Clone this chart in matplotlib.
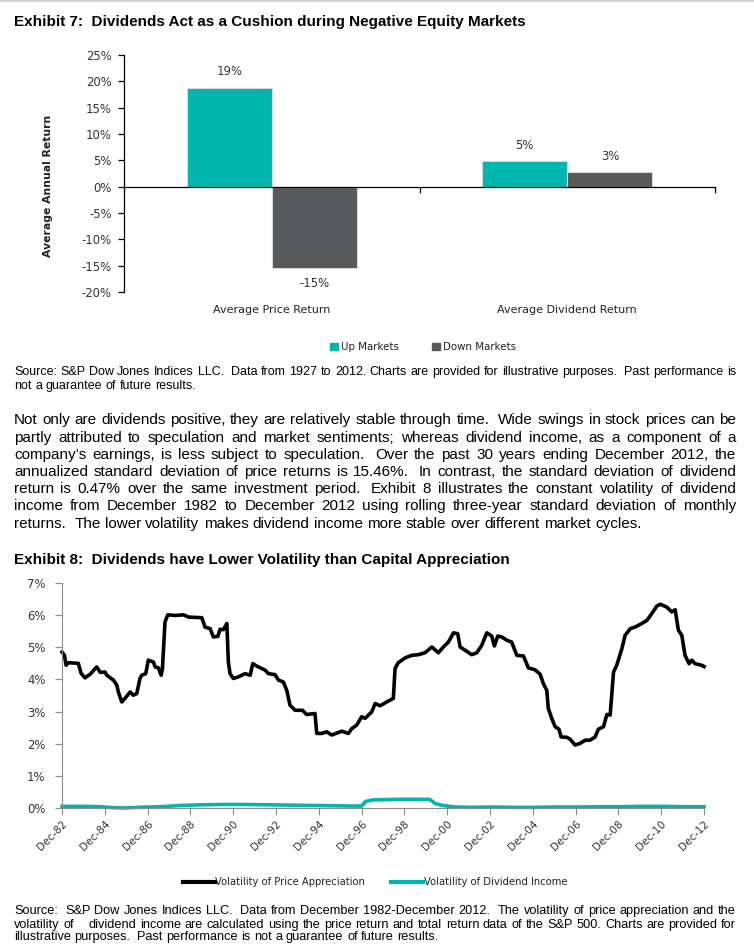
from math import floor
import numpy as np
import matplotlib
matplotlib.use('Agg')
import matplotlib.pyplot as plt
from matplotlib.patches import Patch
from matplotlib.lines import Line2D

#====================================================
# Data
#====================================================

categories = ['Average Price Return', 'Average Dividend Return']
up_markets = [18.8, 4.8]
down_markets = [-15.4, 2.7]
up_labels = ['19%', '5%']
down_labels = ['-15%', '3%']
ret_ticks = [-20, -15, -10, -5, 0, 5, 10, 15, 20, 25]

# rolling three-year volatility, decimal years
price_dates = [1982.92, 1983.03, 1983.11, 1983.21, 1983.68, 1983.81, 1983.99, 1984.23,
               1984.54, 1984.70, 1984.93, 1985.01, 1985.32, 1985.48, 1985.55, 1985.71,
               1985.86, 1986.10, 1986.25, 1986.41, 1986.56, 1986.64, 1986.83, 1986.95,
               1987.19, 1987.27, 1987.42, 1987.55, 1987.61, 1987.73, 1987.86, 1988.20,
               1988.59, 1988.82, 1989.45, 1989.60, 1989.84, 1989.99, 1990.20, 1990.30,
               1990.46, 1990.62, 1990.69, 1990.77, 1990.92, 1991.16, 1991.47, 1991.71,
               1991.83, 1992.09, 1992.41, 1992.56, 1992.87, 1993.03, 1993.26, 1993.42,
               1993.57, 1993.81, 1994.15, 1994.35, 1994.74, 1994.82, 1995.05, 1995.29,
               1995.52, 1995.99, 1996.30, 1996.46, 1996.69, 1996.92, 1997.08, 1997.39,
               1997.55, 1997.78, 1998.09, 1998.40, 1998.48, 1998.63, 1998.95, 1999.26,
               1999.57, 1999.88, 2000.20, 2000.50, 2000.74, 2000.97, 2001.21, 2001.41,
               2001.52, 2001.75, 2002.06, 2002.30, 2002.53, 2002.77, 2003.00, 2003.12,
               2003.28, 2003.47, 2003.70, 2003.93, 2004.17, 2004.48, 2004.71, 2005.02,
               2005.26, 2005.41, 2005.57, 2005.64, 2005.80, 2005.96, 2006.14, 2006.24,
               2006.50, 2006.66, 2006.89, 2007.13, 2007.36, 2007.59, 2007.83, 2007.98,
               2008.22, 2008.38, 2008.53, 2008.69, 2008.84, 2009.08, 2009.23, 2009.47,
               2009.70, 2010.01, 2010.25, 2010.48, 2010.71, 2010.87, 2011.18, 2011.41,
               2011.57, 2011.72, 2011.88, 2012.03, 2012.22, 2012.34, 2012.50, 2012.81,
               2012.92]
price_vol = [4.85, 4.75, 4.44, 4.52, 4.50, 4.19, 4.05, 4.16,
             4.39, 4.22, 4.23, 4.13, 3.98, 3.82, 3.61, 3.30,
             3.41, 3.61, 3.51, 3.56, 4.03, 4.13, 4.18, 4.60,
             4.54, 4.39, 4.36, 4.13, 4.34, 5.79, 6.01, 5.99,
             6.01, 5.94, 5.92, 5.63, 5.58, 5.32, 5.34, 5.56,
             5.55, 5.74, 4.54, 4.18, 4.03, 4.08, 4.18, 4.13,
             4.49, 4.39, 4.29, 4.18, 4.15, 3.98, 3.92, 3.66,
             3.20, 3.04, 3.04, 2.91, 2.94, 2.32, 2.32, 2.37,
             2.27, 2.39, 2.32, 2.47, 2.58, 2.84, 2.79, 2.99,
             3.25, 3.18, 3.30, 3.41, 4.34, 4.52, 4.67, 4.75,
             4.77, 4.83, 5.01, 4.83, 5.01, 5.16, 5.45, 5.42,
             5.01, 4.91, 4.77, 4.83, 5.06, 5.45, 5.35, 5.04,
             5.35, 5.32, 5.22, 5.16, 4.75, 4.73, 4.36, 4.30,
             4.16, 3.87, 3.66, 3.10, 2.79, 2.53, 2.45, 2.21,
             2.20, 2.14, 1.96, 2.01, 2.11, 2.11, 2.21, 2.45,
             2.53, 2.91, 2.89, 4.23, 4.44, 4.96, 5.37, 5.58,
             5.63, 5.74, 5.84, 6.05, 6.28, 6.34, 6.25, 6.10,
             6.17, 5.53, 5.37, 4.75, 4.49, 4.60, 4.49, 4.44,
             4.40]

div_dates = [1982.92, 1984.0, 1984.7, 1985.3, 1985.8, 1986.5, 1987.5, 1988.5, 1989.5,
             1990.5, 1991.5, 1992.5, 1993.5, 1994.5, 1995.5, 1996.5, 1996.92, 1997.1,
             1997.4, 1998.0, 1998.7, 1999.5, 2000.1, 2000.35, 2000.7, 2001.3, 2002.0,
             2003.0, 2004.0, 2005.0, 2006.0, 2007.0, 2008.0, 2009.0, 2010.0, 2011.0,
             2012.0, 2012.92]
div_vol = [0.05, 0.05, 0.04, 0.01, 0.00, 0.02, 0.04, 0.08, 0.10,
           0.11, 0.11, 0.10, 0.09, 0.08, 0.07, 0.06, 0.06, 0.20,
           0.25, 0.26, 0.27, 0.27, 0.27, 0.14, 0.08, 0.03, 0.02,
           0.03, 0.02, 0.02, 0.03, 0.03, 0.04, 0.04, 0.05, 0.05,
           0.04, 0.04]

vol_ticks = [0, 1, 2, 3, 4, 5, 6, 7]
tick_years = list(range(1982, 2013, 2))
tick_labels = ['Dec-%02d' % (y % 100) for y in tick_years]

para = ["Not only are dividends positive, they are relatively stable through time.  Wide swings in stock prices can be",
        "partly attributed to speculation and market sentiments; whereas dividend income, as a component of a",
        "company\u2019s earnings, is less subject to speculation.  Over the past 30 years ending December 2012, the",
        "annualized standard deviation of price returns is 15.46%.  In contrast, the standard deviation of dividend",
        "return is 0.47% over the same investment period.  Exhibit 8 illustrates the constant volatility of dividend",
        "income from December 1982 to December 2012 using rolling three-year standard deviation of monthly",
        "returns.  The lower volatility makes dividend income more stable over different market cycles."]
source7 = ["Source: S&P Dow Jones Indices LLC.  Data from 1927 to 2012. Charts are provided for illustrative purposes.  Past performance is",
           "not a guarantee of future results."]
source8 = ["Source:  S&P Dow Jones Indices LLC.  Data from December 1982-December 2012.  The volatility of price appreciation and the",
           "volatility of    dividend income are calculated using the price return and total return data of the S&P 500. Charts are provided for",
           "illustrative purposes.  Past performance is not a guarantee of future results."]

#====================================================
# Page setup
#====================================================

teal = '#00B5AD'
grey = '#58595B'
W, H = 754, 949
text_font = ['Liberation Sans', 'DejaVu Sans']
plt.rcParams['font.family'] = ['DejaVu Sans']

fig = plt.figure(figsize=(W / 100, H / 100), dpi=100)
fig.patch.set_facecolor('white')
r = fig.canvas.get_renderer()


def put(x, y, s, **kw):
    # x, y in page pixels from the top left corner
    return fig.text(x / W, 1 - y / H, s, **kw)


def width(t):
    return t.get_window_extent(r).width


def probe(s, **kw):
    t = put(0, 0, s, **kw)
    w = width(t)
    t.remove()
    return w


def fit(x, y, s, w, **kw):
    t = put(x, y, s, size=10, va='baseline', **kw)
    t.set_size(10 * w / width(t))
    return t


def snap(t, y):
    # keep every word of a line on the same pixel baseline
    _, h, d = r.get_text_width_height_descent(t.get_text(), t.get_fontproperties(), False)
    k = y + floor(h) - floor(h - d)
    t.set_y(1 - (k - d) / H)


def line(s, y, size, justify, x0=14, x1=736):
    # one text per word, placed where it would sit in the whole line
    kw = dict(size=size, family=text_font, va='baseline')
    starts, i = [], 0
    while i < len(s):
        if s[i] != ' ' and (i == 0 or s[i - 1] == ' '):
            starts.append(i)
        i += 1
    xw = probe('x', **kw)
    add = 0
    if justify and len(starts) > 1:
        add = (x1 - x0 - probe(s, **kw)) / (len(starts) - 1)
    for n, st in enumerate(starts):
        end = s.find(' ', st)
        word = s[st:] if end < 0 else s[st:end]
        off = 0 if n == 0 else probe(s[:st] + 'x', **kw) - xw
        t = put(x0 + off + n * add, y, word, **kw)
        snap(t, y)


def block(lines, y0, step, x0=14, x1=736):
    size = min(10 * (x1 - x0 - 2) / probe(s, size=10, family=text_font) for s in lines[:-1])
    for i, s in enumerate(lines):
        line(s, round(y0 + i * step), size, i < len(lines) - 1, x0, x1)


fig.add_artist(Line2D([0, 1], [1 - 1 / H, 1 - 1 / H], color='#d4d4d4', lw=1.5))

#====================================================
# Exhibit 7
#====================================================

fit(14, 26, 'Exhibit 7:  Dividends Act as a Cushion during Negative Equity Markets', 510,
    weight='bold', family=text_font)

ax1 = fig.add_axes([124 / W, 1 - 292 / H, 591 / W, 237 / H])
x = np.arange(len(categories))
bw = 0.288
ax1.bar(x - bw / 2, up_markets, bw, color=teal, edgecolor='#d8d8d8', lw=0.8)
ax1.bar(x + bw / 2, down_markets, bw, color=grey, edgecolor='#d8d8d8', lw=0.8)
for i in range(len(categories)):
    ax1.annotate(up_labels[i], (x[i] - bw / 2, up_markets[i]), xytext=(0, 11.5),
                 textcoords='offset points', ha='center', va='center', size=8.4, color='#333333')
    ax1.annotate(down_labels[i], (x[i] + bw / 2, down_markets[i]),
                 xytext=(0, 11.5 if down_markets[i] > 0 else -11.5),
                 textcoords='offset points', ha='center', va='center', size=8.4, color='#333333')
    ax1.annotate(categories[i], (x[i], 0), xycoords=('data', 'axes fraction'), xytext=(0, -13),
                 textcoords='offset points', ha='center', va='center', size=8, color='#222222')

ax1.set_xlim(-0.5, 1.5)
ax1.set_ylim(-20, 25)
ax1.set_yticks(ret_ticks)
ax1.set_yticklabels(['%d%%' % v for v in ret_ticks])
ax1.set_xticks([-0.5, 0.5, 1.5])
ax1.set_xticklabels([])
for s in ['top', 'right']:
    ax1.spines[s].set_visible(False)
ax1.spines['bottom'].set_position(('data', 0))
ax1.spines['left'].set_linewidth(0.9)
ax1.spines['bottom'].set_linewidth(0.9)
ax1.tick_params(axis='y', direction='out', length=4, width=0.9, pad=5, labelsize=8.4,
                labelcolor='#333333')
ax1.tick_params(axis='x', direction='out', length=4, width=0.9)

put(48, 186, 'Average Annual Return', rotation=90, ha='center', va='center', size=7.8,
    weight='bold', color='#222222')

fig.legend(handles=[Patch(color=teal), Patch(color=grey)], labels=['Up Markets', 'Down Markets'],
           ncol=2, loc='center', bbox_to_anchor=(423 / W, 1 - 347 / H), frameon=False,
           handlelength=0.75, handleheight=0.75, handletextpad=0.25, columnspacing=3.3,
           fontsize=7.4, labelcolor='#222222')

block(source7, 375, 14)
block(para, 424.5, 17.2)

#====================================================
# Exhibit 8
#====================================================

fit(14, 564, 'Exhibit 8:  Dividends have Lower Volatility than Capital Appreciation', 494,
    weight='bold', family=text_font)

ax2 = fig.add_axes([62 / W, 1 - 808 / H, 642 / W, 225 / H])
ax2.plot(price_dates, price_vol, color='black', lw=2.6, solid_joinstyle='round', clip_on=False)
ax2.plot(div_dates, div_vol, color=teal, lw=2.6, solid_joinstyle='round', clip_on=False)
ax2.set_xlim(1982 + 11 / 12, 2012 + 11 / 12)
ax2.set_ylim(0, 7)
ax2.set_yticks(vol_ticks)
ax2.set_yticklabels(['%d%%' % v for v in vol_ticks])
ax2.set_xticks([y + 11 / 12 for y in tick_years])
ax2.set_xticklabels(tick_labels, rotation=45, ha='right', va='top', rotation_mode='anchor')
for s in ['top', 'right']:
    ax2.spines[s].set_visible(False)
for s in ['left', 'bottom']:
    ax2.spines[s].set_color('#8c8c8c')
ax2.tick_params(axis='y', direction='out', length=5, color='#8c8c8c', pad=7, labelsize=8.4,
                labelcolor='#333333')
ax2.tick_params(axis='x', direction='out', length=5, color='#8c8c8c', pad=3, labelsize=7.6,
                labelcolor='#333333')

fig.legend(handles=[Line2D([], [], color='black', lw=3), Line2D([], [], color=teal, lw=3)],
           labels=['Volatility of Price Appreciation', 'Volatility of Dividend Income'],
           ncol=2, loc='center', bbox_to_anchor=(375 / W, 1 - 882 / H), frameon=False,
           handlelength=3.2, handletextpad=0.05, columnspacing=2.6, fontsize=7.2,
           labelcolor='#222222')

block(source8, 914.5, 13)

plt.savefig('out.png', dpi=100)
